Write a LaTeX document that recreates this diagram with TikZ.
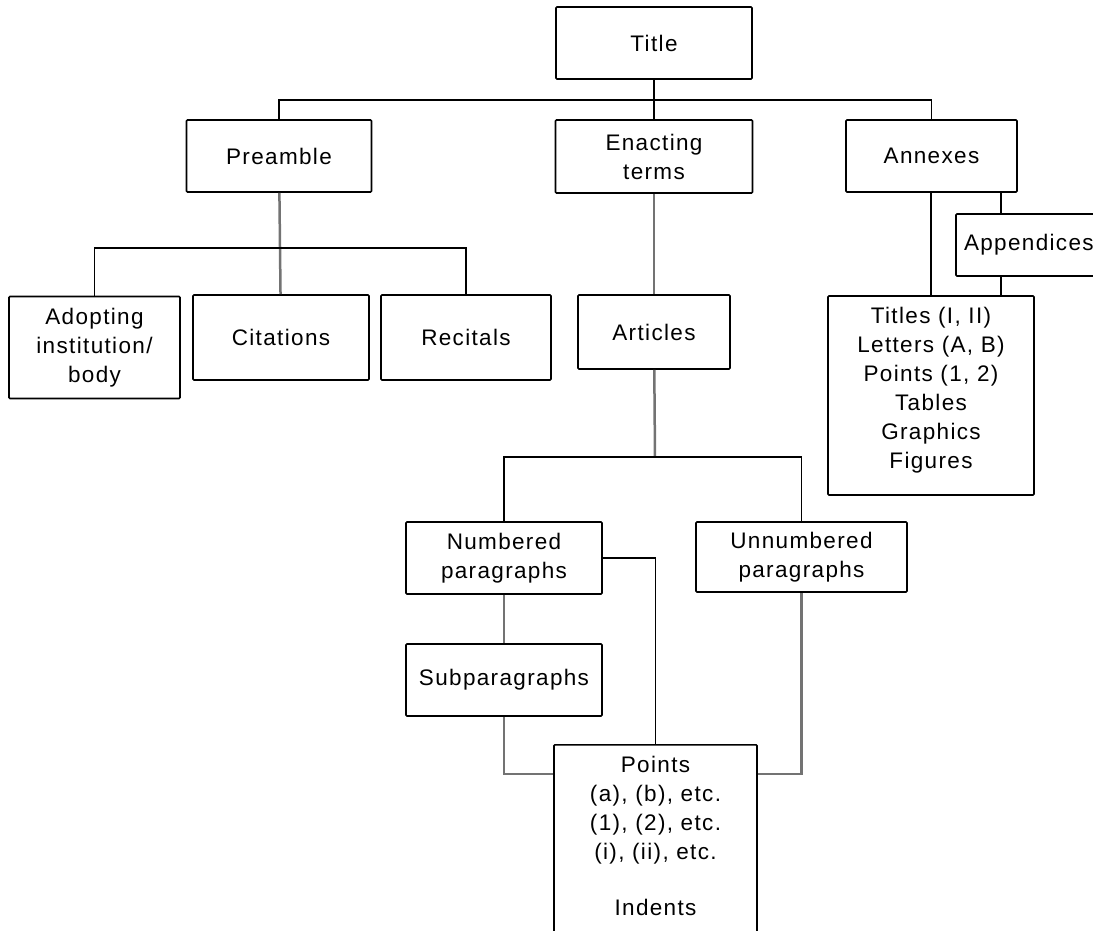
\documentclass[tikz,border=0pt]{standalone}
\usepackage{fontspec}
\setmainfont[LetterSpace=6]{Liberation Sans}
\begin{document}
\begin{tikzpicture}[x=1pt,y=-1pt,
  box/.style={draw=black,line width=1.6pt,rounded corners=1pt,align=center,inner sep=0pt,
    font=\fontsize{22.5}{29}\selectfont},
  txt/.style={align=center,inner sep=0pt,font=\fontsize{22.5}{29}\selectfont},
  conn/.style={draw=black,line width=1.4pt},
  gconn/.style={draw=black!55,line width=2.5pt}]
\useasboundingbox (0,0) rectangle (1093,930);
\clip (0,0) rectangle (1093,930);
% nodes
\node[box,minimum width=196pt,minimum height=72pt] (title) at (654,43) {Title};
\node[box,minimum width=185pt,minimum height=72pt] (preamble) at (279,156) {Preamble};
\node[box,minimum width=197pt,minimum height=73pt] (enacting) at (654,156.5) {Enacting\\terms};
\node[box,minimum width=171pt,minimum height=72pt] (annexes) at (931.5,156) {Annexes};
\node[box,minimum width=150pt,minimum height=62pt,text width=140pt,align=left] (appendices) at (1031,245) {\hspace*{3pt}Appendices};
\node[box,minimum width=206pt,minimum height=199pt] (titles) at (931,395.5) {};
\node[txt] (titlestext) at (931,390.5) {Titles (I, II)\\Letters (A, B)\\Points (1, 2)\\Tables\\Graphics\\Figures};
\node[box,minimum width=171pt,minimum height=102pt] (adopting) at (94.5,347.5) {Adopting\\institution/\\body};
\node[box,minimum width=176pt,minimum height=85pt] (citations) at (281,337.5) {Citations};
\node[box,minimum width=170pt,minimum height=85pt] (recitals) at (466,337.5) {Recitals};
\node[box,minimum width=152pt,minimum height=74pt] (articles) at (654,332) {Articles};
\node[box,minimum width=196pt,minimum height=72pt] (numbered) at (504,558) {Numbered\\paragraphs};
\node[box,minimum width=211pt,minimum height=70pt] (unnumbered) at (801.5,557) {Unnumbered\\paragraphs};
\node[box,minimum width=196pt,minimum height=72pt] (subpar) at (504,680) {Subparagraphs};
\node[box,minimum width=203pt,minimum height=216pt,anchor=north] (points) at (655.5,744) {};
\node[txt,anchor=north] (pointstext) at (655.5,756)
  {Points\\(a), (b), etc.\\(1), (2), etc.\\(i), (ii), etc.\\[27pt]Indents};
% helper coordinates
\coordinate (bus1) at (654,100);
\coordinate (bus2) at (280,248);
\coordinate (bus3) at (655,457);
\coordinate (apx) at (1001,0);
\coordinate (pj) at (0,774);
% connectors
\draw[conn] (title) -- (enacting);
\draw[conn] (preamble.north) |- (bus1) -| (annexes.north);
\draw[gconn] (preamble) -- (citations);
\draw[conn] (adopting.north) |- (bus2) -| (recitals.north);
\draw[gconn] (enacting) -- (articles);
\draw[conn] (annexes.south -| titles.north) -- (titles.north);
\draw[conn] (annexes.south -| apx) -- (appendices.north -| apx);
\draw[conn] (appendices.south -| apx) -- (titles.north -| apx);
\draw[gconn] (articles) -- (bus3);
\draw[conn] (numbered.north) |- (bus3) -| (unnumbered.north);
\draw[conn] (numbered.east) -| (points.north);
\draw[gconn] (numbered) -- (subpar);
\draw[gconn] (subpar.south) |- (points.west |- pj);
\draw[gconn] (unnumbered.south) |- (points.east |- pj);
\end{tikzpicture}
\end{document}
